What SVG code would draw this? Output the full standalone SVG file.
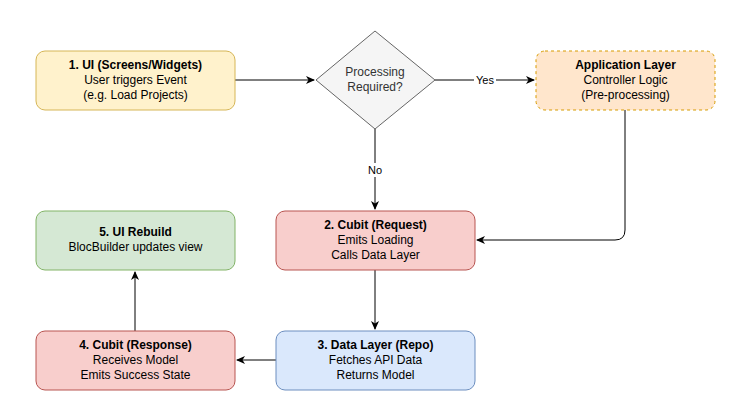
<svg xmlns="http://www.w3.org/2000/svg" width="750" height="420" viewBox="0 0 750 420">
<style>
text{font-family:"Liberation Sans",Arial,sans-serif;font-size:12px;fill:#000;text-anchor:middle}
.b{font-weight:bold}
.c{fill:none;stroke:#000;stroke-width:1}
.l{font-size:11px}
</style>
<defs><marker id="a" markerWidth="10" markerHeight="10" refX="8" refY="5" orient="auto" markerUnits="userSpaceOnUse"><path d="M0,1 L9,5 L0,9 L2.5,5 Z" fill="#000"/></marker></defs>
<rect width="750" height="420" fill="#fff"/>
<g id="connectors">
<path class="c" d="M235,80 H314" marker-end="url(#a)"/>
<path class="c" d="M435,80 H534" marker-end="url(#a)"/>
<rect x="474" y="73" width="22" height="14" fill="#fff"/><text class="l" x="485" y="84">Yes</text>
<path class="c" d="M375,129 V209" marker-end="url(#a)"/>
<rect x="365" y="163" width="20" height="14" fill="#fff"/><text class="l" x="375" y="174">No</text>
<path class="c" d="M625,110 V230 Q625,240 615,240 H477" marker-end="url(#a)"/>
<path class="c" d="M375,270 V329" marker-end="url(#a)"/>
<path class="c" d="M276,360 H237" marker-end="url(#a)"/>
<path class="c" d="M135,331 V272" marker-end="url(#a)"/>
</g>
<g id="ui"><rect x="36" y="51" width="199" height="59" rx="9" fill="#fff2cc" stroke="#d6b656"/>
<text class="b" x="135.5" y="69">1. UI (Screens/Widgets)</text><text x="135.5" y="84">User triggers Event</text><text x="135.5" y="99">(e.g. Load Projects)</text></g>
<g id="decision"><path d="M375,31 L435,80 L375,129 L316,80 Z" fill="#f5f5f5" stroke="#666"/>
<text x="375" y="76" fill="#333" style="fill:#333">Processing</text><text x="375" y="91" style="fill:#333">Required?</text></g>
<g id="app"><rect x="536" y="51" width="179" height="59" rx="9" fill="#ffe6cc" stroke="#d79b00" stroke-dasharray="3,3"/>
<text class="b" x="625.5" y="69">Application Layer</text><text x="625.5" y="84">Controller Logic</text><text x="625.5" y="99">(Pre-processing)</text></g>
<g id="cubitreq"><rect x="276" y="211" width="199" height="59" rx="9" fill="#f8cecc" stroke="#b85450"/>
<text class="b" x="375.5" y="229">2. Cubit (Request)</text><text x="375.5" y="244">Emits Loading</text><text x="375.5" y="259">Calls Data Layer</text></g>
<g id="rebuild"><rect x="36" y="211" width="199" height="59" rx="9" fill="#d5e8d4" stroke="#82b366"/>
<text class="b" x="135.5" y="236">5. UI Rebuild</text><text x="135.5" y="251">BlocBuilder updates view</text></g>
<g id="data"><rect x="276" y="331" width="199" height="59" rx="9" fill="#dae8fc" stroke="#6c8ebf"/>
<text class="b" x="375.5" y="349">3. Data Layer (Repo)</text><text x="375.5" y="364">Fetches API Data</text><text x="375.5" y="379">Returns Model</text></g>
<g id="cubitresp"><rect x="36" y="331" width="199" height="59" rx="9" fill="#f8cecc" stroke="#b85450"/>
<text class="b" x="135.5" y="349">4. Cubit (Response)</text><text x="135.5" y="364">Receives Model</text><text x="135.5" y="379">Emits Success State</text></g>
</svg>
